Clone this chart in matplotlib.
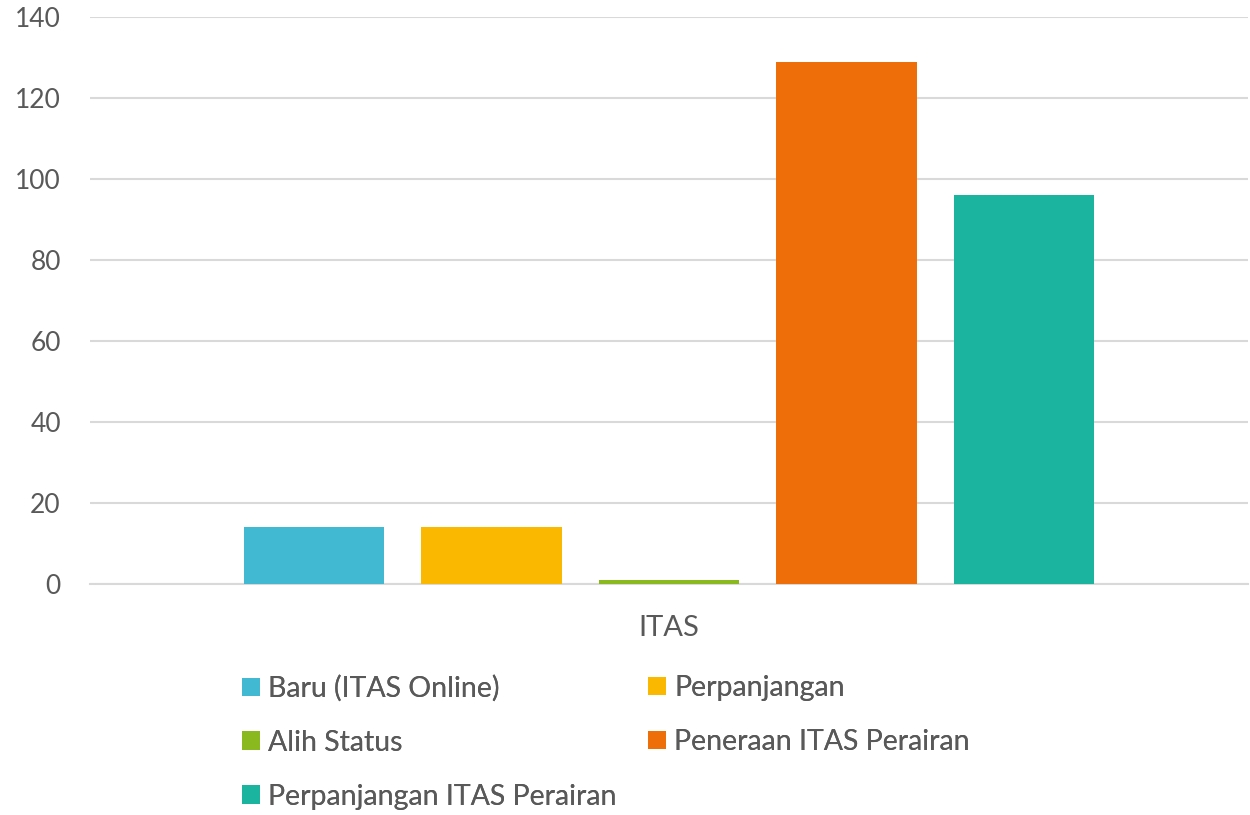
import matplotlib.pyplot as plt
from matplotlib.patches import Patch

plt.rcParams['font.family'] = ['Lato', 'DejaVu Sans']

category = 'ITAS'
series = ['Baru (ITAS Online)', 'Perpanjangan', 'Alih Status',
          'Peneraan ITAS Perairan', 'Perpanjangan ITAS Perairan']
values = [14, 14, 1, 129, 96]
colors = ['#41B9D3', '#FBB800', '#8AB81F', '#EE6F0A', '#1BB49F']
yticks = [0, 20, 40, 60, 80, 100, 120, 140]

text_color = '#595959'
grid_color = '#D9D9D9'

fig = plt.figure(figsize=(12.5, 8.15), dpi=100)
W, H = 1250, 815
ax = fig.add_axes([90 / W, 1 - 584 / H, (1248 - 90) / W, (584 - 17) / H])

xs = list(range(len(values)))
bars = ax.bar(xs, values, width=0.79, color=colors, zorder=3)

ax.set_xlim(-1.262, len(values) - 1 + 1.262)
ax.set_ylim(0, 140)
ax.set_yticks(yticks)
ax.set_yticklabels([str(t) for t in yticks], fontsize=19, color=text_color)
ax.tick_params(axis='y', length=0, pad=21)
ax.set_xticks([(len(values) - 1) / 2])
ax.set_xticklabels([category], fontsize=21, color=text_color)
ax.tick_params(axis='x', length=0, pad=22)

ax.grid(axis='y', color=grid_color, linewidth=1.5, zorder=0)
for s in ['top', 'right', 'left']:
    ax.spines[s].set_visible(False)
ax.spines['bottom'].set_color(grid_color)
ax.spines['bottom'].set_linewidth(1.5)

# legend: two columns, filled row by row
handles = [Patch(facecolor=c, edgecolor='none') for c in colors]
leg_kw = dict(loc='upper left', frameon=False, fontsize=20.5,
              handlelength=0.63, handleheight=0.63, handletextpad=0.28,
              labelspacing=0.98, borderpad=0, borderaxespad=0,
              labelcolor=text_color)
cols = [([0, 2, 4], 242), ([1, 3], 648)]
for idx, x0 in cols:
    leg = fig.legend([handles[i] for i in idx], [series[i] for i in idx],
                     bbox_to_anchor=(x0 / W, 1 - 675 / H), **leg_kw)
    fig.add_artist(leg)

fig.savefig('out.png', dpi=100)
